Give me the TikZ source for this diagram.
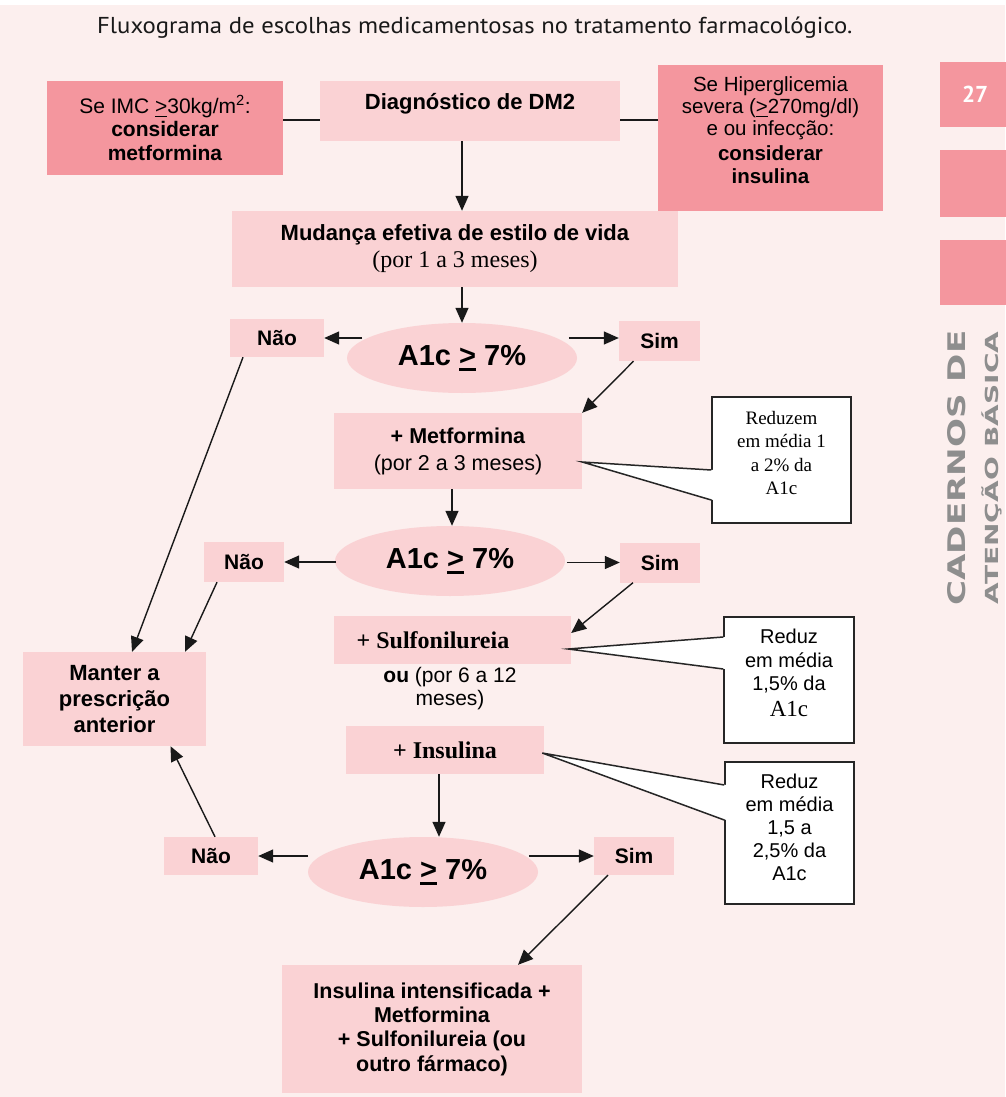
\documentclass[tikz,border=0pt]{standalone}
\usepackage{fontspec}
\setmainfont{Liberation Sans}
\newfontfamily\serifft{Liberation Serif}
\newfontfamily\titlefont{PT Sans}
\newfontfamily\sidefont{DejaVu Sans}
\usetikzlibrary{arrows.meta,calc,shapes.geometric}
\definecolor{bgpink}{HTML}{FCEFEE}
\definecolor{boxpink}{HTML}{FAD2D4}
\definecolor{darkpink}{HTML}{F4969E}
\definecolor{sidegray}{HTML}{8E8E8E}
\newcommand{\geu}{\setbox0\hbox{>}\rlap{\rule[-0.2em]{\wd0}{0.09em}}\box0\relax}
\begin{document}
\begin{tikzpicture}[x=1pt,y=-1pt,
  lbox/.style={fill=boxpink, draw=none, inner sep=0pt, align=center},
  dbox/.style={fill=darkpink, draw=none, inner sep=0pt, align=center},
  ans/.style={lbox, font=\bfseries\fontsize{21}{24}\selectfont},
  ell/.style={ellipse, fill=boxpink, inner sep=0pt, minimum width=230pt, minimum height=70pt, font=\bfseries\fontsize{29}{32}\selectfont},
  callbox/.style={draw=black!85, fill=white, line width=1.5pt, inner sep=0pt},
  cl/.style={draw=black!85, line width=1.5pt, line join=miter},
  arr/.style={line width=1.4pt, draw=black!90, -{Triangle[length=15pt,width=13pt]}},
  ln/.style={line width=1.4pt, draw=black!90},
]
\useasboundingbox (0,0) rectangle (1005,1097);
\fill[bgpink] (0,0) rectangle (1005,1097);
\fill[white] (0,0) rectangle (1005,5);

% title
\node[font=\titlefont\fontsize{23}{26}\selectfont, anchor=west, text=black!90, inner sep=0pt] (title) at (97,28) {\scalebox{1.075}[1]{Fluxograma de escolhas medicamentosas no tratamento farmacológico.}};

% side blocks
\node[dbox, minimum width=70pt, minimum height=65pt, anchor=north west, text=white, font=\titlefont\bfseries\fontsize{23}{24}\selectfont] (pg) at (940,62) {27};
\node[dbox, minimum width=70pt, minimum height=67pt, anchor=north west] (sb2) at (940,150) {};
\node[dbox, minimum width=70pt, minimum height=65pt, anchor=north west] (sb3) at (940,240) {};
\node[rotate=90, text=sidegray, inner sep=0pt] (cad) at (957,468) {\resizebox{275pt}{18pt}{\sidefont\bfseries CADERNOS DE}};
\node[rotate=90, text=sidegray, inner sep=0pt] (atb) at (992,468) {\scalebox{2.8}[1.8]{\sidefont\bfseries ATENÇÃO BÁSICA}};

% top row
\node[dbox, minimum width=236pt, minimum height=94pt, font=\fontsize{21}{23.5}\selectfont] (imc) at (165,128) {Se IMC \geu30kg/m\textsuperscript{2}:\\ \textbf{considerar}\\ \textbf{metformina}};
\node[lbox, minimum width=300pt, minimum height=60pt] (diag) at (470,111) {};
\node[font=\bfseries\fontsize{22}{24}\selectfont, inner sep=0pt] (diagt) at (470,104) {Diagnóstico de DM2};
\node[dbox, minimum width=225pt, minimum height=146pt] (hyp) at (770.5,138) {};
\node[font=\fontsize{20.5}{22}\selectfont, align=center, inner sep=0pt] (hypt) at (770.5,130) {Se Hiperglicemia\\severa (\geu270mg/dl)\\e ou infecção:\\[3pt] \textbf{considerar}\\[1pt] \textbf{insulina}};

% main column
\node[lbox, minimum width=446pt, minimum height=76pt, font=\fontsize{22}{27}\selectfont] (mud) at (455,249) {\textbf{Mudança efetiva de estilo de vida}\\{\serifft\fontsize{24}{27}\selectfont (por 1 a 3 meses)}};
\node[ell] (e1) at (462,358) {A1c \geu{} 7\%};
\node[ans, minimum width=94pt, minimum height=38pt] (no1) at (277,338) {Não};
\node[ans, minimum width=81pt, minimum height=40pt] (sim1) at (659.5,341) {Sim};
\node[lbox, minimum width=248pt, minimum height=76pt, font=\fontsize{21.5}{27}\selectfont] (met) at (458,451) {\textbf{+ Metformina}\\(por 2 a 3 meses)};
\node[ell] (e2) at (450,561) {A1c \geu{} 7\%};
\node[ans, minimum width=80pt, minimum height=40pt] (no2) at (244,562) {Não};
\node[ans, minimum width=80pt, minimum height=40pt] (sim2) at (660,562.5) {Sim};
\node[lbox, minimum width=237pt, minimum height=48pt] (sulf) at (452.5,640) {};
\node[font=\serifft\bfseries\fontsize{24}{26}\selectfont, inner sep=0pt] (sulft) at (433,640) {+ Sulfonilureia};
\node[font=\fontsize{21}{23}\selectfont, align=center, inner sep=0pt] (out) at (450,689) {\textbf{ou} (por 6 a 12\\meses)};
\node[lbox, minimum width=198pt, minimum height=48pt, font=\serifft\bfseries\fontsize{24}{26}\selectfont] (ins) at (445,750) {+ Insulina};
\node[ell] (e3) at (423,872) {A1c \geu{} 7\%};
\node[ans, minimum width=94pt, minimum height=38pt] (no3) at (211,856) {Não};
\node[ans, minimum width=80pt, minimum height=38pt] (sim3) at (634,856) {Sim};
\node[lbox, minimum width=300pt, minimum height=128pt, font=\bfseries\fontsize{21.5}{24.3}\selectfont] (fin) at (432,1029) {Insulina intensificada +\\Metformina\\+ Sulfonilureia (ou\\outro fármaco)};
\node[lbox, minimum width=183pt, minimum height=94pt, font=\bfseries\fontsize{22}{26}\selectfont] (manter) at (114.5,699) {Manter a\\prescrição\\anterior};

% callouts
\node[callbox, minimum width=139pt, minimum height=126pt] (c1) at (781.5,460) {};
\node[font=\serifft\fontsize{19}{23.5}\selectfont, align=center, inner sep=0pt] (c1t) at (781.5,453) {Reduzem\\em média 1\\a 2\% da\\A1c};
\fill[white] ([xshift=2pt,yshift=-10pt]c1.west) -- ([yshift=-11pt]met.east) -- ([xshift=2pt,yshift=-40pt]c1.west) -- cycle;
\draw[cl] ([yshift=-10pt]c1.west) -- ([yshift=-11pt]met.east) -- ([yshift=-40pt]c1.west);

\node[callbox, minimum width=130pt, minimum height=126pt] (c2) at (789,680) {};
\node[font=\fontsize{20}{23.5}\selectfont, align=center, inner sep=0pt] (c2t) at (789,673) {Reduz\\em média\\1,5\% da\\[2pt]{\serifft\fontsize{23}{24}\selectfont A1c}};
\fill[white] ([xshift=2pt,yshift=43pt]c2.west) -- ([xshift=-3pt,yshift=-9pt]sulf.east) -- ([xshift=2pt,yshift=11pt]c2.west) -- cycle;
\draw[cl] ([yshift=43pt]c2.west) -- ([xshift=-3pt,yshift=-9pt]sulf.east) -- ([yshift=11pt]c2.west);

\node[callbox, minimum width=129pt, minimum height=142pt] (c3) at (789.5,833) {};
\node[font=\fontsize{20}{23}\selectfont, align=center, inner sep=0pt] (c3t) at (789.5,827) {Reduz\\em média\\1,5 a\\2,5\% da\\A1c};
\fill[white] ([xshift=2pt,yshift=48pt]c3.west) -- ([xshift=-2pt,yshift=-3pt]ins.east) -- ([xshift=2pt,yshift=13pt]c3.west) -- cycle;
\draw[cl] ([yshift=48pt]c3.west) -- ([xshift=-2pt,yshift=-3pt]ins.east) -- ([yshift=13pt]c3.west);

% connectors
\draw[ln] ([yshift=8pt]imc.east) -- ([yshift=-9pt]diag.west);
\draw[ln] ([yshift=-9pt]diag.east) -- ([yshift=18pt]hyp.west);
\draw[arr] (diag.south -| e1.center) -- (mud.north -| e1.center);
\draw[arr] (mud.south -| e1.center) -- (e1.north);
\draw[arr] ($(no1.east)+(38,0)$) -- (no1.east);
\draw[arr] ($([yshift=3pt]sim1.west)+(-50,0)$) -- ([yshift=3pt]sim1.west);
\draw[arr] ([xshift=-26pt]sim1.south) -- (met.north east);
\draw[arr] ([xshift=-34pt]no1.south) -- ([xshift=17.5pt]manter.north);
\draw[arr] ([xshift=-6pt]met.south) -- ([xshift=-6pt]met.south |- e2.north);
\draw[arr] ($(no2.east)+(52,0)$) -- (no2.east);
\draw[arr] ($(sim2.west)+(-53,0)$) -- (sim2.west);
\draw[arr] ([xshift=-27pt]sim2.south) -- ([yshift=7pt]sulf.east);
\draw[arr] ([xshift=-27pt]no2.south) -- ([xshift=70.5pt]manter.north);
\draw[arr] ([xshift=-6pt]ins.south) -- ([xshift=-6pt]ins.south |- e3.north);
\draw[arr] ($(no3.east)+(50,0)$) -- (no3.east);
\draw[arr] ($(sim3.west)+(-65,0)$) -- (sim3.west);
\draw[arr] ([xshift=4pt]no3.north) -- ([xshift=56pt]manter.south);
\draw[arr] ([xshift=-26pt]sim3.south) -- ([xshift=86pt]fin.north);
\end{tikzpicture}
\end{document}
